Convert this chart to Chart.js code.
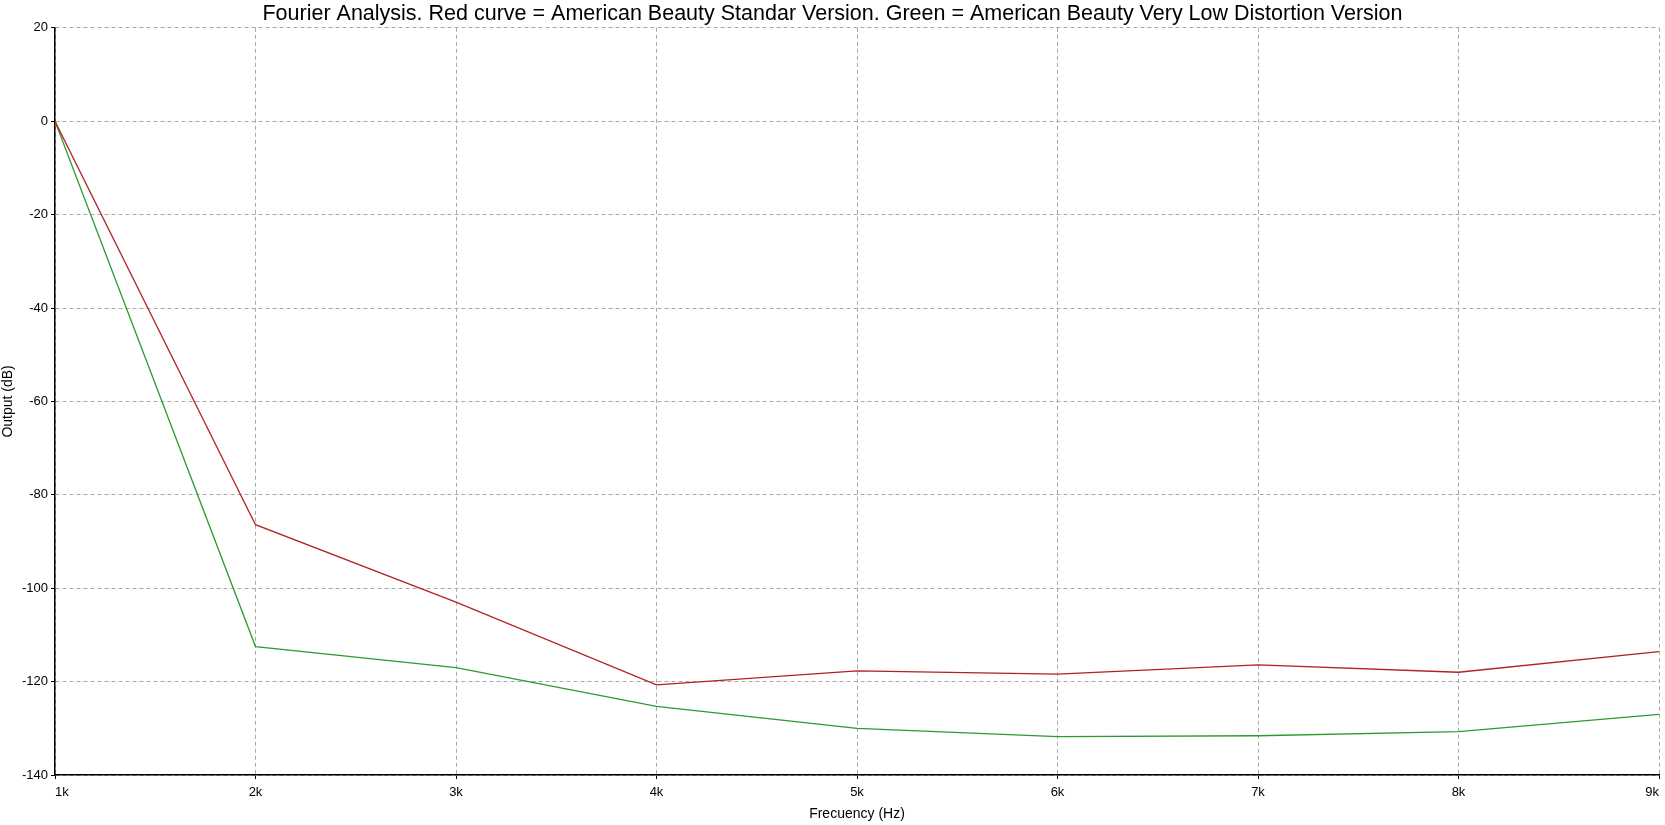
<!DOCTYPE html>
<html>
<head>
<meta charset="utf-8">
<script src="https://cdn.jsdelivr.net/npm/chart.js@4/dist/chart.umd.min.js"></script>
<style>
  html, body { margin: 0; padding: 0; background: #fff; }
  #wrap { width: 1665px; height: 825px; }
</style>
</head>
<body>
<div id="wrap"><canvas id="myChart"></canvas></div>
<script>
// Frequencies (Hz) and output levels (dB)
const frequencies = [1000, 2000, 3000, 4000, 5000, 6000, 7000, 8000, 9000];
const standardDb = [0, -86.4, -103, -120.7, -117.7, -118.4, -116.4, -118, -113.6];
const lowDistortionDb = [0, -112.5, -117, -125.3, -130, -131.8, -131.6, -130.7, -127];

const toPoints = (ys) => frequencies.map((f, i) => ({ x: f, y: ys[i] }));

const gridStyle = {
    color: '#a8a8a8',
    lineWidth: 1,
    tickColor: '#000',
    tickLength: 4,
    tickBorderDash: []
};

const ctx = document.getElementById('myChart').getContext('2d');
window.myChart = new Chart(ctx, {
    type: 'line',
    data: {
        datasets: [
            {
                label: 'Standar Version',
                data: toPoints(standardDb),
                borderColor: '#b22222',
                borderWidth: 1.3,
                pointRadius: 0,
                fill: false
            },
            {
                label: 'Very Low Distortion Version',
                data: toPoints(lowDistortionDb),
                borderColor: '#2e9a2e',
                borderWidth: 1.3,
                pointRadius: 0,
                fill: false
            }
        ]
    },
    options: {
        responsive: true,
        maintainAspectRatio: false,
        animation: false,
        layout: { padding: { left: 0, right: 0, top: 0, bottom: 0 } },
        plugins: {
            legend: { display: false },
            tooltip: { enabled: false },
            title: {
                display: true,
                text: 'Fourier Analysis. Red curve = American Beauty Standar Version. Green = American Beauty Very Low Distortion Version',
                color: '#000',
                font: { family: 'Liberation Sans, Arial', size: 21.5, weight: 'normal' },
                padding: { top: 1, bottom: 1 }
            }
        },
        scales: {
            x: {
                type: 'linear',
                min: 1000,
                max: 9000,
                grid: gridStyle,
                border: { display: true, color: '#000', width: 1.5, dash: [4, 3] },
                ticks: {
                    stepSize: 1000,
                    color: '#000',
                    align: 'inner',
                    maxRotation: 0,
                    padding: 6,
                    font: { family: 'Liberation Sans, Arial', size: 13 },
                    callback: (v) => (v / 1000) + 'k'
                },
                title: {
                    display: true,
                    text: 'Frecuency (Hz)',
                    color: '#000',
                    font: { family: 'Liberation Sans, Arial', size: 14 },
                    padding: { top: 2, bottom: 2 }
                },
                afterFit: (scale) => { scale.height = 50; }
            },
            y: {
                min: -140,
                max: 20,
                grid: gridStyle,
                border: { display: true, color: '#000', width: 1.5, dash: [4, 3] },
                ticks: {
                    stepSize: 20,
                    color: '#000',
                    padding: 3,
                    font: { family: 'Liberation Sans, Arial', size: 13 }
                },
                title: {
                    display: true,
                    text: 'Output (dB)',
                    color: '#000',
                    font: { family: 'Liberation Sans, Arial', size: 14 },
                    padding: { top: 0, bottom: 4 }
                },
                afterFit: (scale) => { scale.width = 55; }
            }
        }
    }
});
</script>
</body>
</html>
